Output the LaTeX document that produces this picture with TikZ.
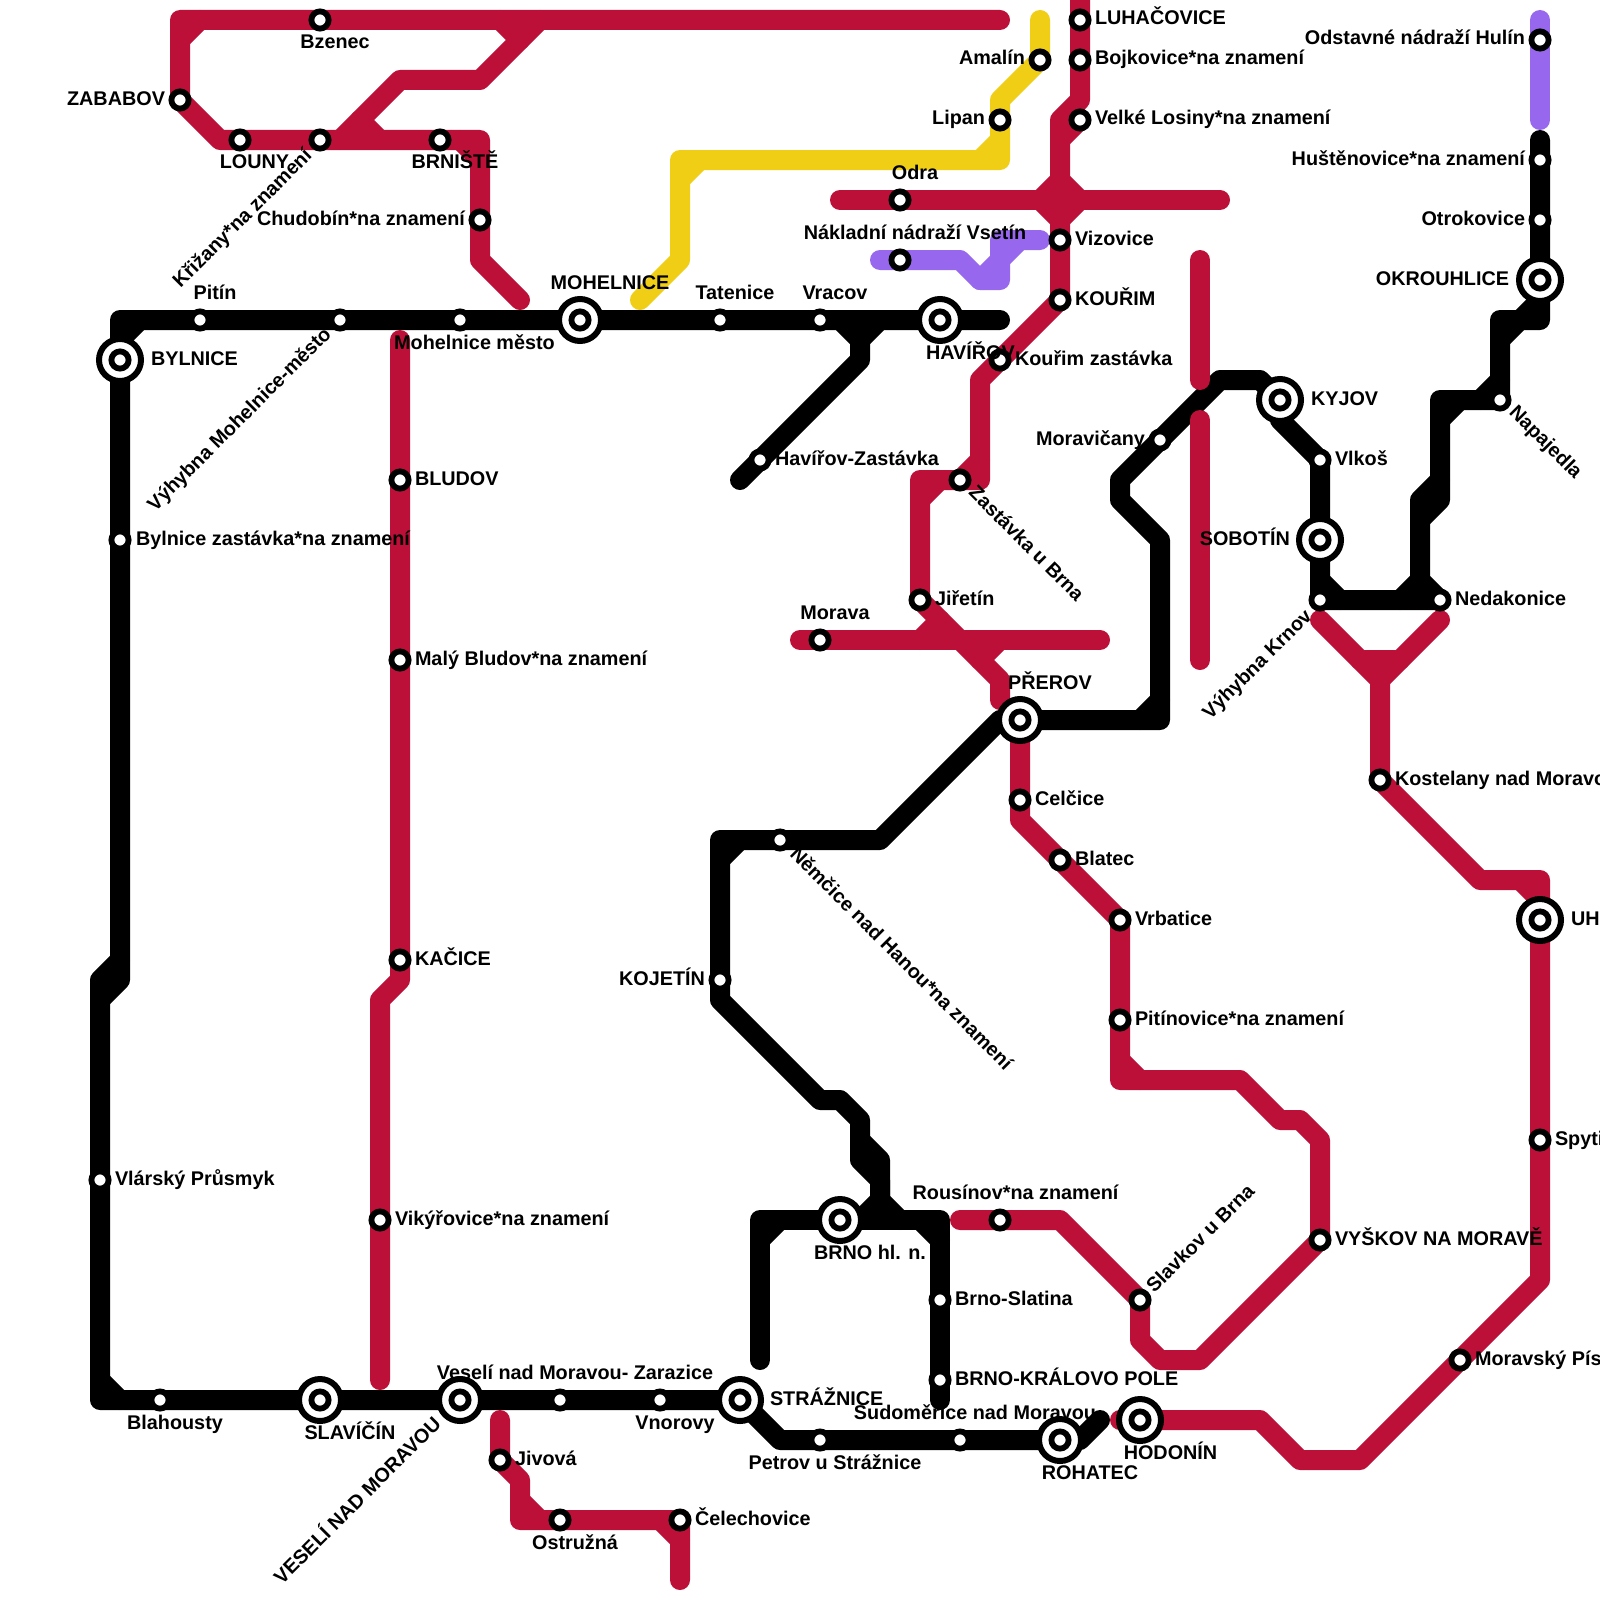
\documentclass[tikz,border=0pt]{standalone}
\usepackage{fontspec}
\setmainfont{Liberation Sans}[BoldFont={Liberation Sans Bold}]
\pgfdeclarelayer{bg}
\pgfsetlayers{bg,main}
\tikzset{
  x=0.5pt,y=-0.5pt,
  stopm/.style={circle,draw=black,fill=white,line width=2.9pt,minimum size=8.6pt,inner sep=0pt,outer sep=0pt},
  hubm/.style={circle,draw=black,fill=white,line width=3pt,minimum size=21pt,inner sep=0pt,outer sep=0pt},
  track/.style={line width=10pt,line cap=round,line join=round},
  blk/.style={track,draw=black},
  rd/.style={track,draw=lred},
  yl/.style={track,draw=lyellow},
  pu/.style={track,draw=lpurple},
  txt/.style={font=\fontsize{9.9}{12}\selectfont\bfseries,text=black,inner sep=0pt,outer sep=0pt}
}
\definecolor{lred}{HTML}{BD1038}
\definecolor{lyellow}{HTML}{F0CE15}
\definecolor{lpurple}{HTML}{9768EE}
\newcounter{lblc}
\newcommand\st[3]{\node[stopm] (#1) at (#2,#3) {};}
\newcommand\hb[3]{\node[hubm] (#1) at (#2,#3) {};\node[stopm] (#1-in) at (#2,#3) {};}
\newcommand\lb[5][0]{\stepcounter{lblc}\node[txt,anchor=#2,rotate=#1] (lab\thelblc) at (#3,#4) {#5};}
\begin{document}
\begin{tikzpicture}
\path[use as bounding box] (0,0) rectangle (1600,1600);
% stations
\st{bzenec}{320}{20}\st{zababov}{180}{100}\st{louny}{240}{140}\st{krizany}{320}{140}
\st{brniste}{440}{140}\st{chudobin}{480}{220}
\st{pitin}{200}{320}\st{vyhMest}{340}{320}\st{mohMesto}{460}{320}\hb{mohelnice}{580}{320}
\st{tatenice}{720}{320}\st{vracov}{820}{320}\hb{havirov}{940}{320}\hb{bylnice}{120}{360}
\st{bylzast}{120}{540}\st{vlarsky}{100}{1180}\st{blahousty}{160}{1400}\hb{slavicin}{320}{1400}
\hb{veseli}{460}{1400}\st{zarazice}{560}{1400}\st{vnorovy}{660}{1400}\hb{straznice}{740}{1400}
\st{petrov}{820}{1440}\st{sudomerice}{960}{1440}\hb{rohatec}{1060}{1440}\hb{hodonin}{1140}{1420}
\st{havzast}{760}{460}\st{bludov}{400}{480}\st{malybludov}{400}{660}\st{kacice}{400}{960}
\st{vikyrovice}{380}{1220}\st{jivova}{500}{1460}\st{ostruzna}{560}{1520}\st{celechovice}{680}{1520}
\hb{brno}{840}{1220}\st{slatina}{940}{1300}\st{kpole}{940}{1380}\st{kojetin}{720}{980}\st{nemcice}{780}{840}
\hb{prerov}{1020}{720}\st{celcice}{1020}{800}\st{blatec}{1060}{860}\st{vrbatice}{1120}{920}\st{pitinovice}{1120}{1020}
\st{vyskov}{1320}{1240}\st{slavkov}{1140}{1300}\st{rousinov}{1000}{1220}
\st{luhacovice}{1080}{20}\st{bojkovice}{1080}{60}\st{losiny}{1080}{120}\st{vizovice}{1060}{240}\st{kourim}{1060}{300}
\st{kourimz}{1000}{360}\st{zastbrna}{960}{480}\st{jiretin}{920}{600}\st{morava}{820}{640}
\st{odra}{900}{200}\st{vsetin}{900}{260}\st{amalin}{1040}{60}\st{lipan}{1000}{120}
\st{hulin}{1540}{40}\st{hustenovice}{1540}{160}\st{otrokovice}{1540}{220}\hb{okrouhlice}{1540}{280}
\st{napajedla}{1500}{400}\hb{kyjov}{1280}{400}\st{vlkos}{1320}{460}\hb{sobotin}{1320}{540}\st{krnov}{1320}{600}
\st{nedakonice}{1440}{600}\st{moravicany}{1160}{440}\st{kostelany}{1380}{780}\hb{uh}{1540}{920}
\st{spyti}{1540}{1140}\st{pisek}{1460}{1360}
% tracks
\begin{pgfonlayer}{bg}
\fill[white] (0,0) rectangle (1600,1600);
% black
\draw[blk] (1000,320)--(havirov.center)--(vracov.center)--(tatenice.center)--(mohelnice.center)--(mohMesto.center)--(vyhMest.center)--(pitin.center)--(120,320)--(bylnice.center)--(bylzast.center)--(120,980)--(100,1000);
\draw[blk] (120,340)--(140,320);
\draw[blk] (120,960)--(100,980)--(vlarsky.center)--(100,1400)--(blahousty.center)--(slavicin.center)--(veseli.center)--(zarazice.center)--(vnorovy.center)--(straznice.center)--(780,1440)--(petrov.center)--(sudomerice.center)--(rohatec.center)--(1080,1440)--(1100,1420);
\draw[blk] (100,1380)--(120,1400);
\draw[blk] (840,320)--(860,340)--(860,360)--(havzast.center)--(740,480);
\draw[blk] (860,340)--(880,320);
\draw[blk] (760,1360)--(760,1220)--(brno.center)--(940,1220)--(slatina.center)--(kpole.center)--(940,1400);
\draw[blk] (760,1240)--(780,1220);
\draw[blk] (920,1220)--(940,1240);
\draw[blk] (prerov.center)--(1000,720)--(880,840)--(nemcice.center)--(720,840)--(kojetin.center)--(720,1000)--(820,1100)--(840,1100)--(860,1120)--(860,1160)--(880,1180)--(880,1200)--(860,1220);
\draw[blk] (860,1140)--(880,1160)--(880,1200)--(900,1220);
\draw[blk] (720,860)--(740,840);
\draw[blk] (prerov.center)--(1160,720)--(1160,540)--(1120,500)--(1120,480)--(moravicany.center)--(1220,380)--(1260,380)--(kyjov.center)--(1280,420)--(vlkos.center)--(sobotin.center)--(krnov.center)--(nedakonice.center)--(1420,580)--(1420,500)--(1440,480)--(1440,400)--(napajedla.center)--(1500,320)--(1540,320)--(okrouhlice.center)--(otrokovice.center)--(hustenovice.center)--(1540,140);
\draw[blk] (1140,720)--(1160,700);
\draw[blk] (1400,600)--(1420,580);
\draw[blk] (1420,520)--(1440,500)--(1440,480);
\draw[blk] (1440,420)--(1460,400);
\draw[blk] (1320,580)--(1340,600);
\draw[blk] (1480,400)--(1500,380);
\draw[blk] (1500,340)--(1520,320)--(1540,300);
% red
\draw[rd] (1000,20)--(bzenec.center)--(180,20)--(zababov.center)--(220,140)--(louny.center)--(krizany.center)--(brniste.center)--(480,140)--(chudobin.center)--(480,260)--(520,300);
\draw[rd] (180,40)--(200,20);
\draw[rd] (460,140)--(480,160);
\draw[rd] (500,20)--(520,40)--(480,80)--(400,80)--(340,140);
\draw[rd] (520,40)--(540,20);
\draw[rd] (360,120)--(380,140);
\draw[rd] (400,340)--(bludov.center)--(malybludov.center)--(kacice.center)--(400,980)--(380,1000)--(vikyrovice.center)--(380,1380);
\draw[rd] (500,1420)--(jivova.center)--(520,1480)--(520,1520)--(ostruzna.center)--(celechovice.center)--(680,1580);
\draw[rd] (520,1500)--(540,1520);
\draw[rd] (660,1520)--(680,1540);
\draw[rd] (1080,0)--(luhacovice.center)--(bojkovice.center)--(1080,100)--(1060,120)--(vizovice.center)--(kourim.center)--(980,380)--(980,480)--(920,480)--(jiretin.center)--(1000,680)--(1000,700);
\draw[rd] (1080,120)--(1060,140);
\draw[rd] (960,480)--(980,460);
\draw[rd] (920,500)--(940,480);
\draw[rd] (840,200)--(odra.center)--(1220,200);
\draw[rd,fill=lred] (1040,200)--(1060,180)--(1080,200)--(1060,220)--cycle;
\draw[rd] (800,640)--(morava.center)--(1100,640);
\draw[rd] (920,640)--(940,620);
\draw[rd] (980,660)--(1000,640);
\draw[rd] (prerov.center)--(celcice.center)--(1020,820)--(blatec.center)--(vrbatice.center)--(pitinovice.center)--(1120,1080)--(1240,1080)--(1280,1120)--(1300,1120)--(1320,1140)--(vyskov.center)--(1200,1360)--(1160,1360)--(1140,1340)--(slavkov.center)--(1060,1220)--(rousinov.center)--(960,1220);
\draw[rd] (1120,1060)--(1140,1080);
\draw[rd] (1120,1420)--(hodonin.center)--(1260,1420)--(1300,1460)--(1360,1460)--(pisek.center)--(1540,1280)--(spyti.center)--(uh.center)--(1540,880)--(1480,880)--(kostelany.center)--(1380,680)--(1320,620);
\draw[rd] (1520,880)--(1540,900);
\draw[rd] (1380,680)--(1440,620);
\draw[rd] (1360,660)--(1400,660);
\draw[rd] (1200,260)--(1200,380);
\draw[rd] (1200,420)--(1200,660);
% yellow
\draw[yl] (1040,20)--(amalin.center)--(1000,100)--(lipan.center)--(1000,160)--(680,160)--(680,260)--(640,300);
\draw[yl] (680,180)--(700,160);
\draw[yl] (980,160)--(1000,140);
% purple
\draw[pu] (880,260)--(vsetin.center)--(960,260)--(980,280)--(1000,280)--(1000,240)--(1040,240);
\draw[pu] (980,280)--(1000,260)--(1020,240);
\draw[pu] (1540,20)--(hulin.center)--(1540,120);
\end{pgfonlayer}
% labels
\begin{scope}
\clip (0,0) rectangle (1600,1600);
\lb{base}{335}{49}{Bzenec}
\lb{base east}{165}{105}{ZABABOV}
\lb{base}{254.5}{169}{LOUNY}
\lb[45]{center}{243}{219}{Křižany*na znamení}
\lb{base}{455}{169}{BRNIŠTĚ}
\lb{base east}{465}{225}{Chudobín*na znamení}
\lb{base}{215}{299}{Pitín}
\lb{base}{610}{289}{MOHELNICE}
\lb{base}{735}{299}{Tatenice}
\lb{base}{835}{299}{Vracov}
\lb{base}{474.5}{349}{Mohelnice město}
\lb{base west}{151}{365}{BYLNICE}
\lb[45]{center}{240}{420}{Výhybna Mohelnice-město}
\lb{base west}{415}{485}{BLUDOV}
\lb{base west}{136}{545}{Bylnice zastávka*na znamení}
\lb{base west}{775}{465}{Havířov-Zastávka}
\lb{base}{915}{179}{Odra}
\lb{base}{915}{239}{Nákladní nádraží Vsetín}
\lb{base west}{926}{359}{HAVÍŘOV}
\lb{base west}{1015}{365}{Kouřim zastávka}
\lb{base west}{1075}{245}{Vizovice}
\lb{base west}{1075}{305}{KOUŘIM}
\lb{base west}{1095}{25}{LUHAČOVICE}
\lb{base west}{1095}{65}{Bojkovice*na znamení}
\lb{base west}{1095}{125}{Velké Losiny*na znamení}
\lb{base east}{1025}{65}{Amalín}
\lb{base east}{985}{125}{Lipan}
\lb{base east}{1525}{45}{Odstavné nádraží Hulín}
\lb{base east}{1525}{165}{Huštěnovice*na znamení}
\lb{base east}{1525}{225}{Otrokovice}
\lb{base east}{1509}{285}{OKROUHLICE}
\lb{base west}{1311}{405}{KYJOV}
\lb{base east}{1145}{445}{Moravičany}
\lb{base west}{1335}{465}{Vlkoš}
\lb[-45]{center}{1545}{443}{Napajedla}
\lb{base east}{1290}{545}{SOBOTÍN}
\lb[-45]{center}{1027}{543}{Zastávka u Brna}
\lb{base west}{935}{605}{Jiřetín}
\lb{base}{835}{619}{Morava}
\lb{base}{1050}{689}{PŘEROV}
\lb{base west}{1455}{605}{Nedakonice}
\lb[45]{center}{1258}{665}{Výhybna Krnov}
\lb{base west}{1395}{785}{Kostelany nad Moravo}
\lb{base west}{1571}{925}{UH}
\lb{base west}{1035}{805}{Celčice}
\lb{base west}{1075}{865}{Blatec}
\lb{base west}{1135}{925}{Vrbatice}
\lb{base west}{1135}{1025}{Pitínovice*na znamení}
\lb{base west}{415}{665}{Malý Bludov*na znamení}
\lb{base west}{415}{965}{KAČICE}
\lb{base east}{705}{985}{KOJETÍN}
\lb[-45]{center}{902}{958}{Němčice nad Hanou*na znamení}
\lb{base west}{115}{1185}{Vlárský Průsmyk}
\lb{base west}{395}{1225}{Vikýřovice*na znamení}
\lb{base}{1015.5}{1199}{Rousínov*na znamení}
\lb[45]{center}{1200}{1238}{Slavkov u Brna}
\lb{base west}{1335}{1245}{VYŠKOV NA MORAVĚ}
\lb{base}{870}{1259}{BRNO hl. n.}
\lb{base west}{955}{1305}{Brno-Slatina}
\lb{base west}{955}{1385}{BRNO-KRÁLOVO POLE}
\lb{base west}{1475}{1365}{Moravský Pís}
\lb{base west}{1555}{1145}{Spyti}
\lb{base west}{770}{1405}{STRÁŽNICE}
\lb{base}{975}{1419}{Sudoměřice nad Moravou}
\lb{base}{835}{1469}{Petrov u Strážnice}
\lb{base}{1090}{1479}{ROHATEC}
\lb{base}{1170.5}{1459}{HODONÍN}
\lb{base west}{695}{1525}{Čelechovice}
\lb{base}{575}{1549}{Ostružná}
\lb{base west}{515}{1465}{Jivová}
\lb{base}{675}{1429}{Vnorovy}
\lb{base}{575}{1379}{Veselí nad Moravou- Zarazice}
\lb{base}{175}{1429}{Blahousty}
\lb{base}{350}{1439}{SLAVÍČÍN}
\lb[45]{center}{356}{1499}{VESELÍ NAD MORAVOU}
\end{scope}
\end{tikzpicture}
\end{document}
